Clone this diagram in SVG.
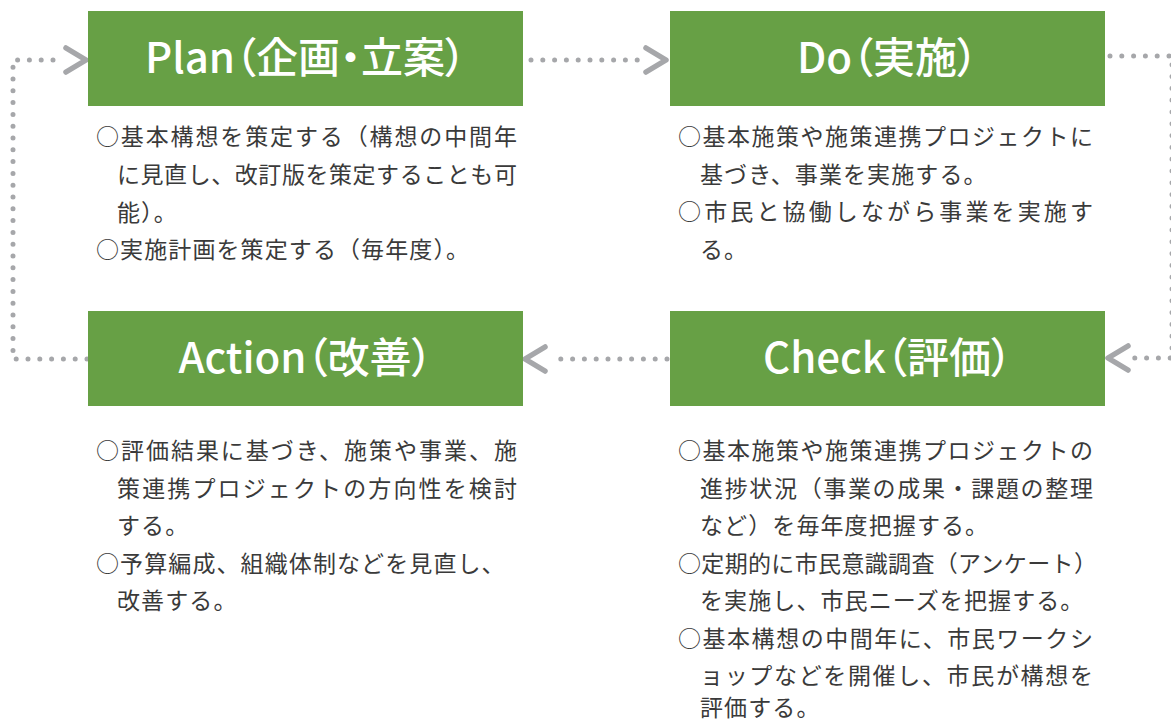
<svg xmlns="http://www.w3.org/2000/svg" width="1171" height="722" viewBox="0 0 1171 722">
<style>
.box{fill:#67a045}
.title{font-family:"Noto Sans CJK JP","Noto Sans",sans-serif;font-size:42px;font-weight:500;fill:#fff;text-anchor:middle;font-feature-settings:"palt"}
.body{font-family:"Noto Sans CJK JP",sans-serif;font-size:23px;fill:#3a3a3a;letter-spacing:1.1px}
.dot{fill:none;stroke:#a6a7aa;stroke-width:5;stroke-linecap:round;stroke-linejoin:round;stroke-dasharray:0 11.8}
</style>
<defs>
<marker id="chev" markerUnits="userSpaceOnUse" markerWidth="40" markerHeight="40" viewBox="-5 -20 40 40" refX="0" refY="0" orient="auto">
<path d="M 4 -12 L 24 0 L 4 12" fill="none" stroke="#a6a7aa" stroke-width="5.5" stroke-linecap="round" stroke-linejoin="round"/>
</marker>
</defs>
<rect width="1171" height="722" fill="#fff"/>
<g id="connectors">
<path class="dot" d="M 87 359 L 13 359 L 13 60 L 62 60" marker-end="url(#chev)"/>
<path class="dot" d="M 531 60 L 642 60" marker-end="url(#chev)"/>
<path class="dot" d="M 1110 56 L 1172 56 L 1172 358 L 1132 358" marker-end="url(#chev)"/>
<path class="dot" d="M 667 359 L 549 359" marker-end="url(#chev)"/>
</g>
<g id="plan">
<rect class="box" x="88" y="11" width="435" height="95"/>
<text class="title" x="305.5" y="73">Plan（企画・立案）</text>
<text class="body" x="96" y="145" textLength="422" lengthAdjust="spacing">○基本構想を策定する（構想の中間年</text>
<text class="body" x="117" y="183" textLength="401" lengthAdjust="spacing">に見直し、改訂版を策定することも可</text>
<text class="body" x="117" y="221">能）。</text>
<text class="body" x="96" y="258">○実施計画を策定する（毎年度）。</text>
</g>
<g id="do">
<rect class="box" x="670" y="11" width="435" height="95"/>
<text class="title" x="887.5" y="73">Do（実施）</text>
<text class="body" x="678" y="145" textLength="416" lengthAdjust="spacing">○基本施策や施策連携プロジェクトに</text>
<text class="body" x="700" y="182.5">基づき、事業を実施する。</text>
<text class="body" x="678" y="220" textLength="416" lengthAdjust="spacing">○市民と協働しながら事業を実施す</text>
<text class="body" x="700" y="257.5">る。</text>
</g>
<g id="action">
<rect class="box" x="88" y="311" width="435" height="95"/>
<text class="title" x="305.5" y="373">Action（改善）</text>
<text class="body" x="96" y="459" textLength="422" lengthAdjust="spacing">○評価結果に基づき、施策や事業、施</text>
<text class="body" x="117" y="496.5" textLength="401" lengthAdjust="spacing">策連携プロジェクトの方向性を検討</text>
<text class="body" x="117" y="534">する。</text>
<text class="body" x="96" y="571.5">○予算編成、組織体制などを見直し、</text>
<text class="body" x="117" y="609">改善する。</text>
</g>
<g id="check">
<rect class="box" x="670" y="311" width="435" height="95"/>
<text class="title" x="887.5" y="373">Check（評価）</text>
<text class="body" x="678" y="459" textLength="416" lengthAdjust="spacing">○基本施策や施策連携プロジェクトの</text>
<text class="body" x="700" y="496.5" textLength="394" lengthAdjust="spacing">進捗状況（事業の成果・課題の整理</text>
<text class="body" x="700" y="534">など）を毎年度把握する。</text>
<text class="body" x="678" y="571.5" textLength="420" lengthAdjust="spacing">○定期的に市民意識調査（アンケート）</text>
<text class="body" x="700" y="609">を実施し、市民ニーズを把握する。</text>
<text class="body" x="678" y="646.5" textLength="416" lengthAdjust="spacing">○基本構想の中間年に、市民ワークシ</text>
<text class="body" x="700" y="684" textLength="394" lengthAdjust="spacing">ョップなどを開催し、市民が構想を</text>
<text class="body" x="700" y="716">評価する。</text>
</g>
</svg>
